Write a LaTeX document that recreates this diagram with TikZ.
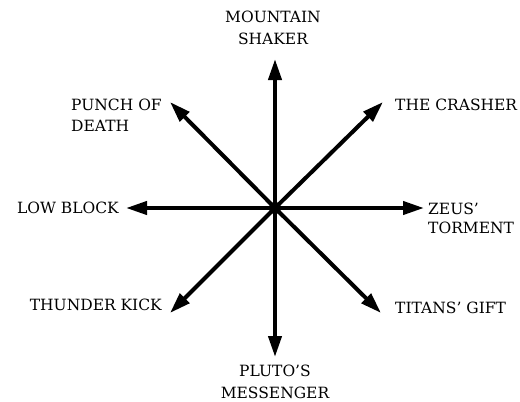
\documentclass[tikz,border=0pt]{standalone}
\usepackage{fontspec}
\setmainfont{DejaVu Serif}
\usetikzlibrary{arrows.meta}

\begin{document}
\begin{tikzpicture}[x=1pt,y=-1pt,
  move/.style={line width=4pt,-{Triangle[length=21pt,width=13pt]}},
  label/.style={inner sep=0pt,font=\fontsize{15.5}{21.5}\selectfont}]

\useasboundingbox (0,0) rectangle (520,402);

% ------------------------------------------------------------------
% Centre and the eight arrow tips
% ------------------------------------------------------------------
\coordinate (c)  at (275,208);
\coordinate (N)  at (275, 59);
\coordinate (S)  at (275,357);
\coordinate (W)  at (126,208);
\coordinate (E)  at (424,208);
\coordinate (NE) at (383,102);
\coordinate (NW) at (170,102);
\coordinate (SW) at (170,313);
\coordinate (SE) at (381,313);

% ------------------------------------------------------------------
% Arrows out of the centre
% ------------------------------------------------------------------
\foreach \t in {N,S,W,E,NE,NW,SW,SE}
  \draw[move] (c) -- (\t);
\fill (c) circle (6pt);

% ------------------------------------------------------------------
% Move names
% ------------------------------------------------------------------
\node[label,align=center] (shaker) at (273,28) {MOUNTAIN\\SHAKER};
\node[label,anchor=west] (crasher) at (395,105) {THE CRASHER};
\node[label,anchor=west,align=left,font=\fontsize{15.5}{19}\selectfont]
  (zeus) at (428,218) {ZEUS'\\TORMENT};
\node[label,anchor=west] (titans) at (395,308) {TITANS' GIFT};
\node[label,align=center] (pluto) at (275,382) {PLUTO'S\\MESSENGER};
\node[label,anchor=east] (thunder) at (162,305) {THUNDER KICK};
\node[label,anchor=east] (low) at (119,208) {LOW BLOCK};
\node[label,anchor=west,align=left] (punch) at (71,115) {PUNCH OF\\DEATH};

\end{tikzpicture}
\end{document}
